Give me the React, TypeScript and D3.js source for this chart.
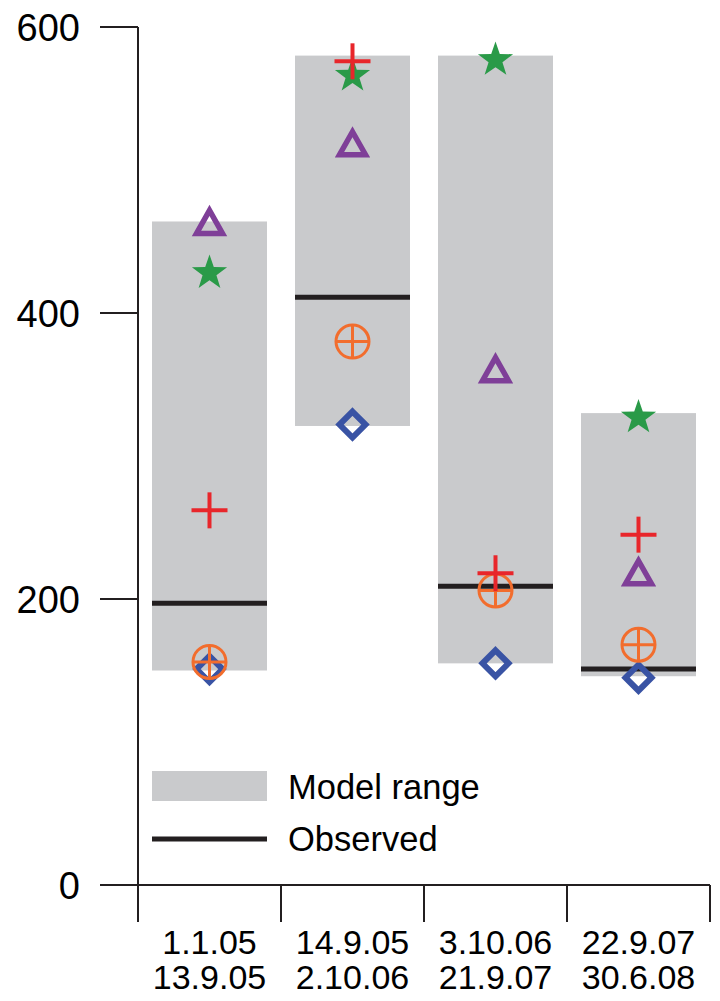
import React from "react";
import * as d3 from "d3";

const categoriesTop = ["1.1.05", "14.9.05", "3.10.06", "22.9.07"];
const categoriesBottom = ["13.9.05", "2.10.06", "21.9.07", "30.6.08"];
const rangeMin = [150, 321, 155, 146];
const rangeMax = [464, 580, 580, 330];
const observed = [197, 411, 209, 151];
const plusVals = [262, 576, 218, 245];
const starVals = [428, 566, 577, 327];
const triangleVals = [463, 518, 360, 218];
const circlePlusVals = [156, 380, 206, 168];
const diamondVals = [151, 322, 155, 145];
const yTicks = [0, 200, 400, 600];

const W = 720;
const H = 1001;
const FONT = "'Liberation Sans', Arial, sans-serif";

const GRAY = "#c9cacc";
const RED = "#e8262b";
const GREEN = "#2a9a48";
const PURPLE = "#7f3f98";
const ORANGE = "#f26d2d";
const BLUE = "#3953a4";
const INK = "#231f20";

function starPath(r: number, ri: number) {
  const pts: string[] = [];
  for (let i = 0; i < 10; i++) {
    const a = -Math.PI / 2 + (i * Math.PI) / 5;
    const rr = i % 2 === 0 ? r : ri;
    pts.push(`${(rr * Math.cos(a)).toFixed(2)},${(rr * Math.sin(a)).toFixed(2)}`);
  }
  return "M" + pts.join("L") + "Z";
}

export default function App() {
  const x = d3.scaleBand<string>().domain(categoriesTop).range([138, 710]).padding(0);
  const y = d3.scaleLinear().domain([0, 600]).range([885, 27]);
  const bw = x.bandwidth();
  const inset = 14;
  const cx = (i: number) => (x(categoriesTop[i]) as number) + bw / 2;

  const star = starPath(18.5, 7.3);
  const tri = "M0,-12.5L13,10.5L-13,10.5Z";
  const dia = "M0,-13L13,0L0,13L-13,0Z";

  return (
    <svg width={W} height={H} style={{ position: "absolute", left: 0, top: 0, background: "#fff" }} fontFamily={FONT}>
      {categoriesTop.map((c, i) => (
        <rect key={"b" + i} x={(x(c) as number) + inset} width={bw - 2 * inset}
          y={y(rangeMax[i])} height={y(rangeMin[i]) - y(rangeMax[i])} fill={GRAY} />
      ))}
      {categoriesTop.map((c, i) => (
        <line key={"o" + i} x1={(x(c) as number) + inset} x2={(x(c) as number) + bw - inset}
          y1={y(observed[i])} y2={y(observed[i])} stroke={INK} strokeWidth={5} />
      ))}
      {diamondVals.map((v, i) => (
        <path key={"d" + i} d={dia} transform={`translate(${cx(i)},${y(v)})`} fill="none" stroke={BLUE} strokeWidth={6} strokeLinejoin="miter" />
      ))}
      {circlePlusVals.map((v, i) => (
        <g key={"c" + i} transform={`translate(${cx(i)},${y(v)})`} stroke={ORANGE} strokeWidth={3} fill="none">
          <circle r={16.5} />
          <line x1={-16.5} x2={16.5} y1={0} y2={0} />
          <line x1={0} x2={0} y1={-16.5} y2={16.5} />
        </g>
      ))}
      {triangleVals.map((v, i) => (
        <path key={"t" + i} d={tri} transform={`translate(${cx(i)},${y(v)})`} fill="none" stroke={PURPLE} strokeWidth={5.5} strokeLinejoin="miter" />
      ))}
      {starVals.map((v, i) => (
        <path key={"s" + i} d={star} transform={`translate(${cx(i)},${y(v)})`} fill={GREEN} />
      ))}
      {plusVals.map((v, i) => (
        <g key={"p" + i} transform={`translate(${cx(i)},${y(v)})`} stroke={RED} strokeWidth={4}>
          <line x1={-18} x2={18} y1={0} y2={0} />
          <line x1={0} x2={0} y1={-18} y2={18} />
        </g>
      ))}
      <line x1={138} x2={138} y1={y(600)} y2={922} stroke={INK} strokeWidth={2} />
      {yTicks.map((t) => (
        <g key={"yt" + t}>
          <line x1={100} x2={138} y1={y(t)} y2={y(t)} stroke={INK} strokeWidth={2} />
          <text x={80} y={y(t)} dy="0.36em" textAnchor="end" fontSize={38} fill="#000">{t}</text>
        </g>
      ))}
      <line x1={100} x2={710} y1={y(0)} y2={y(0)} stroke={INK} strokeWidth={2} />
      {categoriesTop.map((c, i) => (
        <line key={"xt" + i} x1={(x(c) as number) + bw} x2={(x(c) as number) + bw} y1={y(0)} y2={922} stroke={INK} strokeWidth={2} />
      ))}
      {categoriesTop.map((c, i) => (
        <text key={"xl" + i} x={cx(i)} textAnchor="middle" fontSize={34} fill="#000">
          <tspan x={cx(i)} y={954}>{c}</tspan>
          <tspan x={cx(i)} y={989}>{categoriesBottom[i]}</tspan>
        </text>
      ))}
      <rect x={152} y={771} width={115} height={30} fill={GRAY} />
      <text x={288} y={799} fontSize={34.5} fill="#000">Model range</text>
      <line x1={152} x2={267} y1={839} y2={839} stroke={INK} strokeWidth={5} />
      <text x={288} y={851} fontSize={34.5} fill="#000">Observed</text>
    </svg>
  );
}
